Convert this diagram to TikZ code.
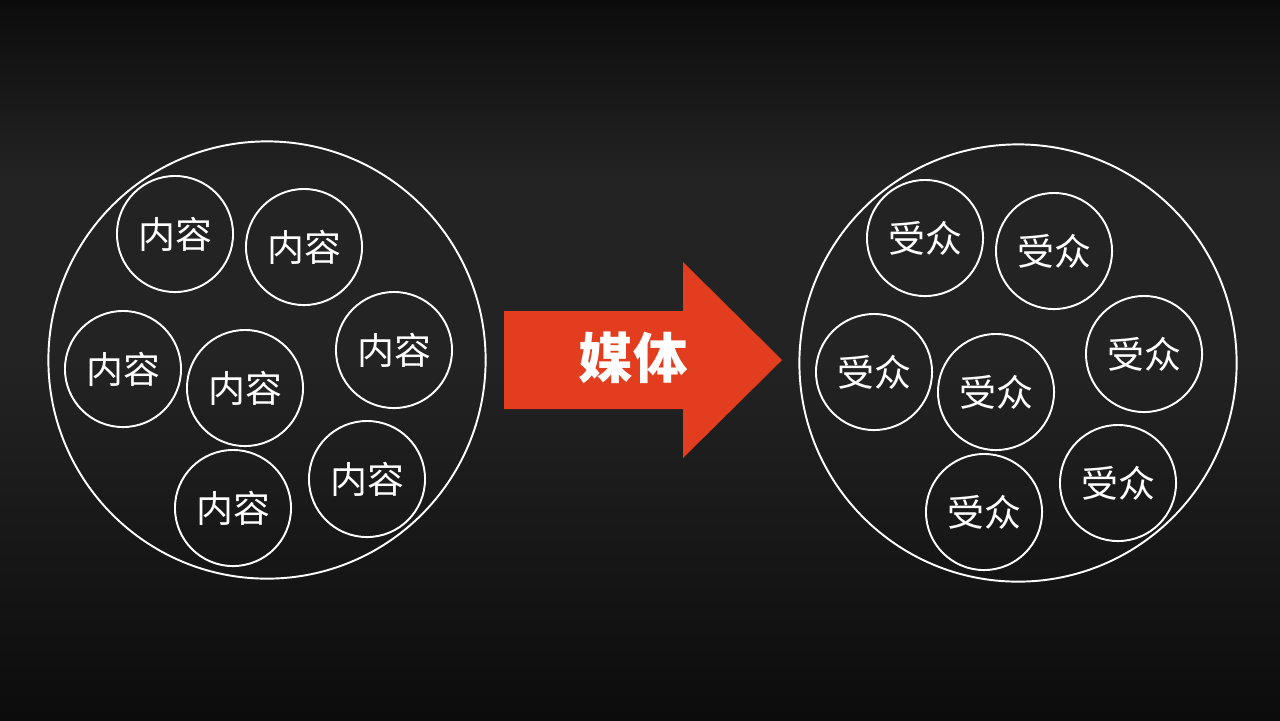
\documentclass[tikz,border=0pt]{standalone}
\usepackage{fontspec}
\usepackage{tikz}
\newfontfamily\cjk{Noto Sans CJK SC}
\definecolor{mediared}{RGB}{226,61,30}
\definecolor{bgdark}{RGB}{12,12,12}
\definecolor{bgmid}{RGB}{35,35,35}
\tikzset{
 pool/.style={circle, draw=white, line width=0.55pt, minimum size=4.37cm, inner sep=0pt},
 item/.style={circle, draw=white, line width=0.55pt, minimum size=1.16cm, inner sep=0pt,
  text=white, font=\cjk\fontsize{10.5pt}{12pt}\selectfont}
}

\begin{document}
\begin{tikzpicture}[x=0.01cm, y=-0.01cm]
 \shade[top color=bgdark, bottom color=bgmid, middle color=bgmid] (0,0) rectangle (1280,360);
 \shade[top color=bgmid, bottom color=bgdark] (0,360) rectangle (1280,720);
 \useasboundingbox (0,0) rectangle (1280,720);
 % left: content
 \node[pool] (content) at (267,360) {};
 \node[item] (c1) at (175,234) {内容};
 \node[item] (c2) at (304,247) {内容};
 \node[item] (c3) at (123,369) {内容};
 \node[item] (c4) at (245,388) {内容};
 \node[item] (c5) at (394,350) {内容};
 \node[item] (c6) at (367,479) {内容};
 \node[item] (c7) at (233,508) {内容};
 % arrow
 \fill[mediared] (504,311) -- (683,311) -- (683,262) -- (782,360) -- (683,458) -- (683,409) -- (504,409) -- cycle;
 \node[text=white, font=\cjk\bfseries\fontsize{15.5pt}{18pt}\selectfont] (media) at (633,358) {媒体};
 % right: audience
 \node[pool] (audience) at (1018,363) {};
 \node[item] (a1) at (925,238) {受众};
 \node[item] (a2) at (1054,251) {受众};
 \node[item] (a3) at (874,372) {受众};
 \node[item] (a4) at (996,392) {受众};
 \node[item] (a5) at (1144,354) {受众};
 \node[item] (a6) at (1118,483) {受众};
 \node[item] (a7) at (984,512) {受众};
\end{tikzpicture}
\end{document}
